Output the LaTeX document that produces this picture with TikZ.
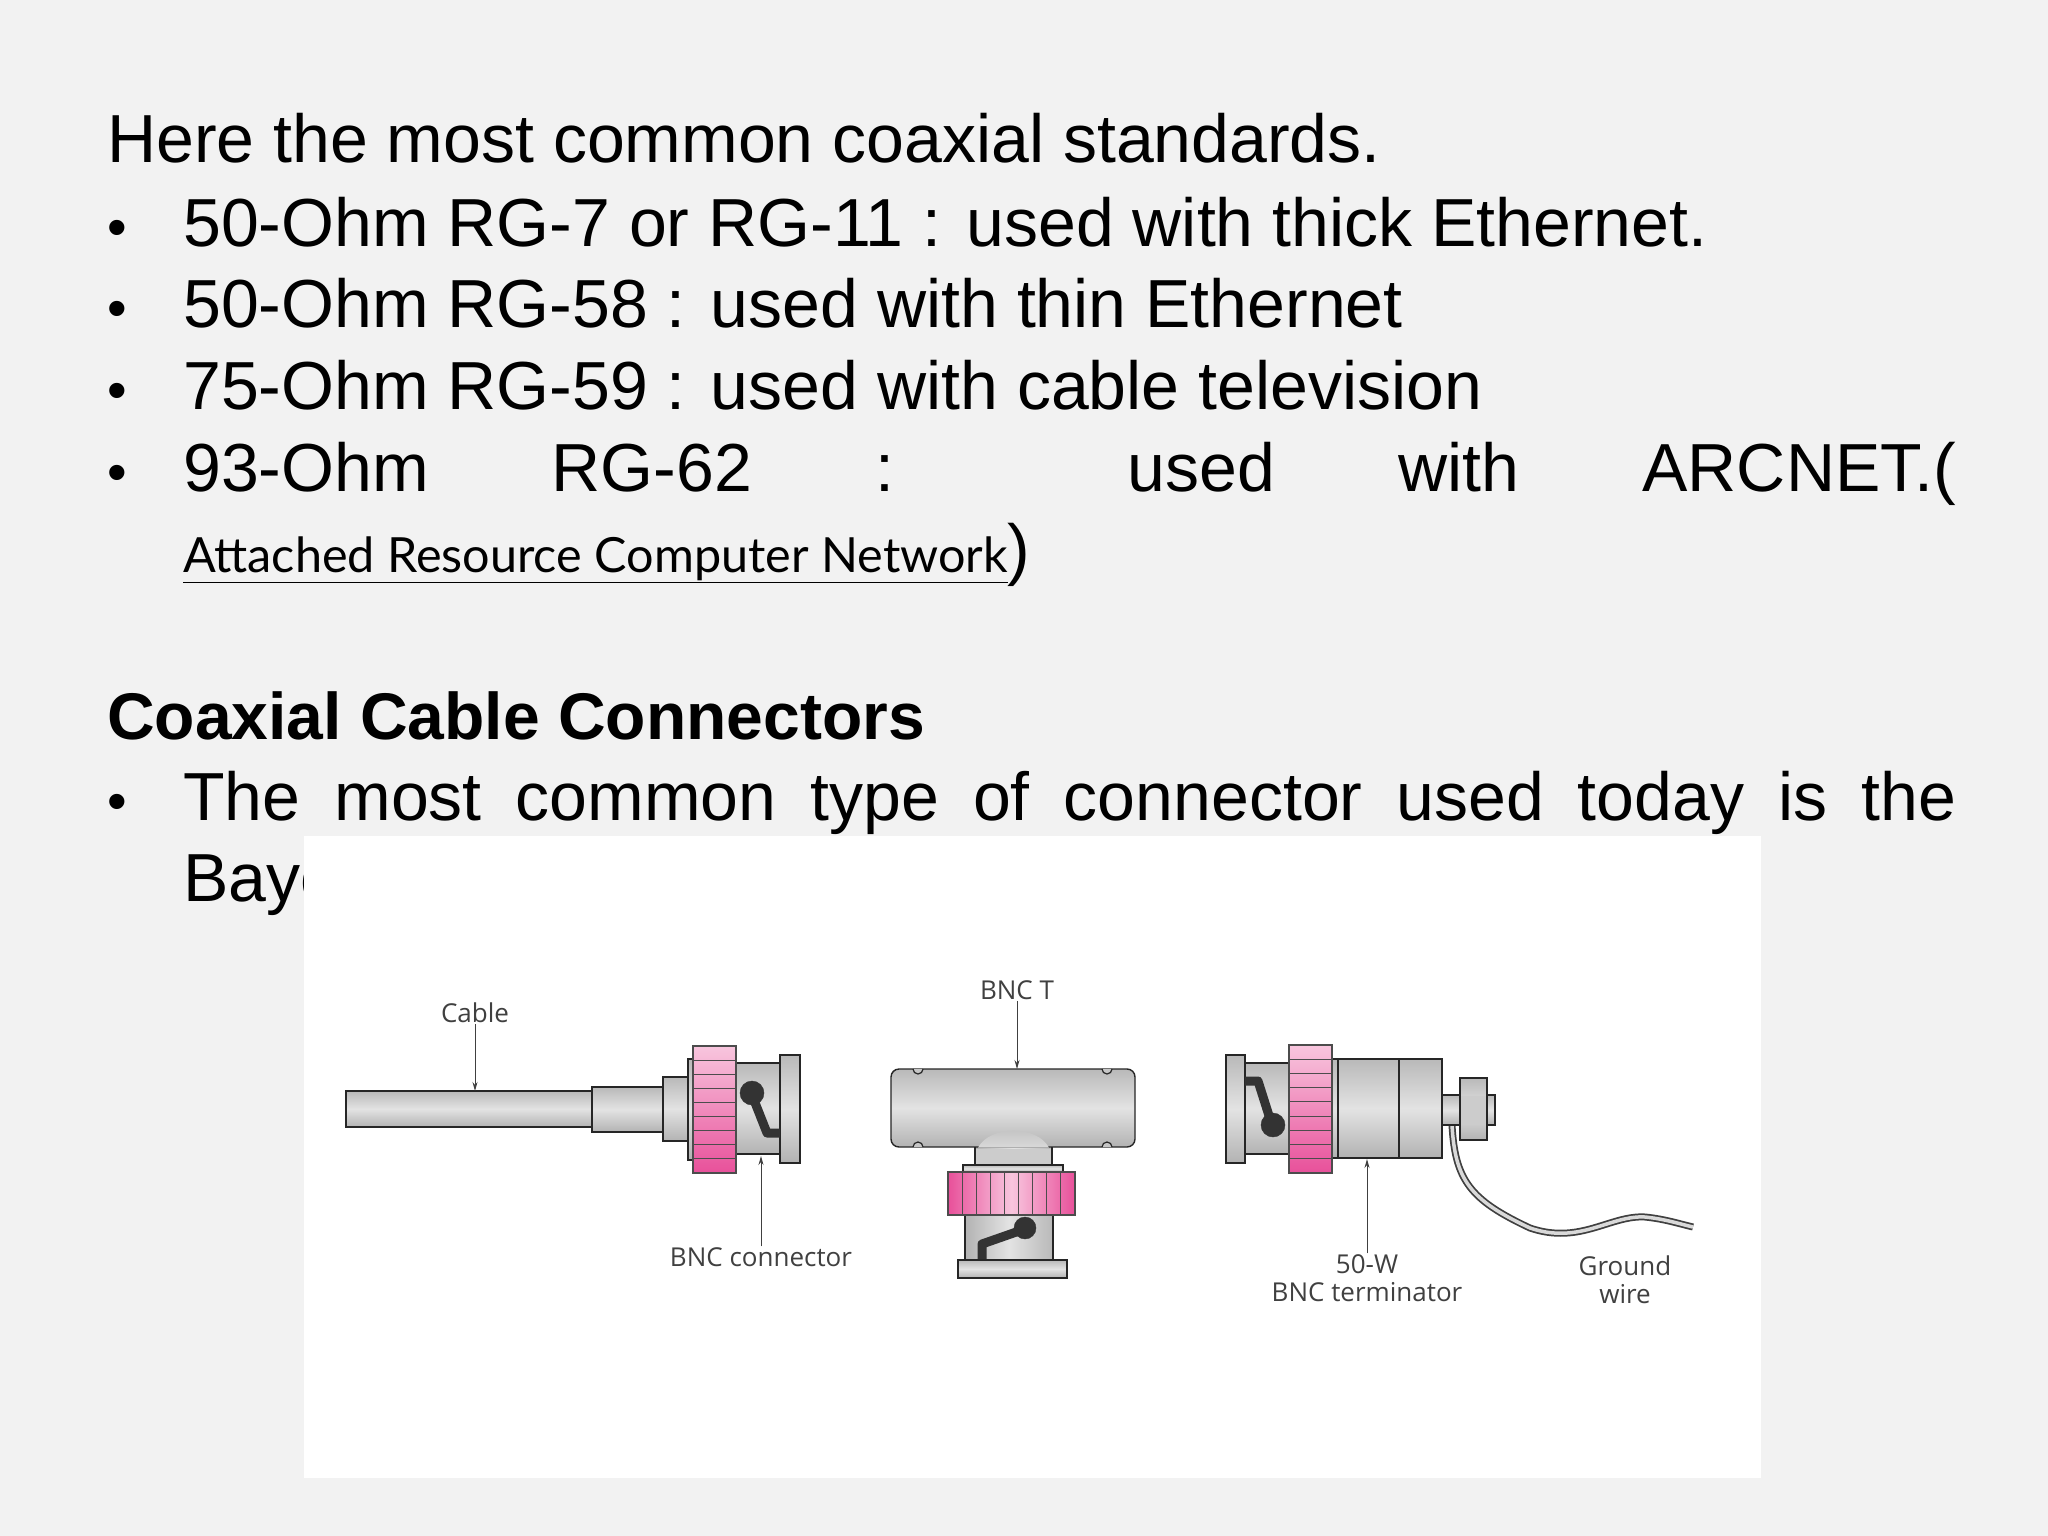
\documentclass[tikz,border=0pt]{standalone}
\usepackage{fontspec}
\usetikzlibrary{arrows.meta}
\setmainfont{Liberation Sans}
\newfontfamily\lblfont{Open Sans}
\newfontfamily\gillfont{Lato}
\definecolor{pklight}{HTML}{F8C6DE}
\definecolor{pkdark}{HTML}{E8509A}
\begin{document}
\begin{tikzpicture}[x=1pt,y=-1pt,
  txt/.style={anchor=base west,inner sep=0pt,font=\fontsize{68}{68}\selectfont},
  bul/.style={anchor=base west,inner sep=0pt,font=\fontsize{56}{56}\selectfont},
  lbl/.style={inner sep=1pt,font=\lblfont\fontsize{26}{28}\selectfont,text=black!75},
  arr/.style={-{Stealth[length=9pt,width=5pt]},black!75,line width=1pt},
  metal/.style={draw=black!85,line width=1.4pt,top color=gray!55,bottom color=gray!60,middle color=gray!22},
  metalv/.style={draw=black!85,line width=1.4pt,left color=gray!60,right color=gray!55,middle color=gray!22},
  pinkh/.style={draw=black!70,line width=1.2pt,top color=pklight,bottom color=pkdark},
  pinkv/.style={draw=black!70,line width=1.2pt,left color=pkdark,right color=pkdark,middle color=pklight},
  slot/.style={fill=black!80,draw=black!80}]
\useasboundingbox (0,0) rectangle (2048,1536);
\fill[black!5] (0,0) rectangle (2048,1536);
% text
\node[txt] (l0) at (107,163) {Here the most common coaxial standards.};
\foreach \yy/\t [count=\k] in {246/{50-Ohm RG-7 or RG-11 : used with thick Ethernet.},327/{50-Ohm RG-58 : used with thin Ethernet},409/{75-Ohm RG-59 : used with cable television}}{
  \node[bul] (b\k) at (107,\yy) {•};
  \node[txt] (t\k) at (183,\yy) {\t};
}
\node[bul] (b4) at (107,491) {•};
\node[txt] (t4) at (183,491) {\makebox[1773pt][s]{93-Ohm RG-62 : used with ARCNET.(}};
\node[txt] (t5) at (183,572) {\gillfont\fontsize{48.5}{48}\selectfont\underline{Attached Resource Computer Network}\fontsize{68}{68}\selectfont\rmfamily)};
\node[txt,font=\bfseries\fontsize{66}{66}\selectfont] (h2) at (107,739) {Coaxial Cable Connectors};
\node[bul] (b6) at (107,820) {•};
\node[txt] (t6) at (183,820) {\makebox[1773pt][s]{The most common type of connector used today is the}};
\node[txt] (t7) at (183,901) {Bayonet Neill-Concelman};
% white image box
\fill[white] (304,836) rectangle (1761,1478);
% ---- cable + BNC connector
\draw[metal] (346,1091) rectangle (592,1127);
\draw[metal] (592,1087) rectangle (663,1132);
\draw[metal] (663,1077) rectangle (688,1141);
\draw[metal] (688,1059) rectangle (694,1160);
\draw[metal] (736,1063) rectangle (780,1154);
\draw[metal] (780,1055) rectangle (800,1163);
\draw[pinkh] (693,1046) rectangle (736,1173);
\foreach \i in {1,...,8} \draw[black!70,line width=1.1pt] (693,{1046+\i*127/9}) -- (736,{1046+\i*127/9});
\fill[slot] (752,1093) circle (12);
\draw[black!80,line width=9pt,line join=round] (752,1095) -- (767,1133) -- (780,1133);
% cable labels
\node[lbl] (lcable) at (475,1013) {Cable};
\coordinate (pcable) at (475,1091);
\draw[arr] (lcable) -- (pcable);
\node[lbl] (lbnc) at (761,1257) {BNC connector};
\coordinate (pbnc) at (761,1156);
\draw[arr] (lbnc) -- (pbnc);
% ---- BNC T
\draw[metalv] (975,1125) -- (975,1170) -- (1052,1170) -- (1052,1125) .. controls (1040,1118) and (987,1118) .. (975,1125) -- cycle;
\draw[metal,rounded corners=8pt] (891,1069) rectangle (1135,1147);
\fill[gray!40] (976,1148.5) rectangle (1051,1165);
\draw[black!85,line width=1.4pt] (975,1147) -- (975,1166) (1052,1147) -- (1052,1166);
\shade[top color=gray!50,bottom color=gray!30] (978,1147.7) .. controls (990,1125) and (1037,1125) .. (1049,1147.7) -- cycle;
\foreach \bx in {918,1107}{
  \draw[black!85,line width=1.2pt,fill=gray!45] (\bx-5,1069) arc (180:0:5);
  \draw[black!85,line width=1.2pt,fill=gray!45] (\bx-5,1147) arc (180:360:5);
}
\draw[metal] (963,1165) rectangle (1063,1172);
\draw[metalv] (965,1215) rectangle (1053,1260);
\draw[metal] (958,1260) rectangle (1067,1278);
\draw[pinkv] (948,1172) rectangle (1075,1215);
\foreach \i in {1,...,8} \draw[black!70,line width=1.1pt] ({948+\i*127/9},1172) -- ({948+\i*127/9},1215);
\fill[slot] (1025,1228) circle (11);
\draw[black!80,line width=9pt,line join=round] (1022,1230) -- (982,1244) -- (982,1259);
\node[lbl] (lt) at (1017,990) {BNC T};
\coordinate (pt) at (1017,1069);
\draw[arr] (lt) -- (pt);
% ---- terminator
\draw[black!75,line width=7pt] (1452,1125) .. controls (1455,1180) and (1470,1200) .. (1530,1228) .. controls (1580,1245) and (1610,1215) .. (1645,1217) .. controls (1665,1219) and (1680,1224) .. (1693,1227);
\draw[gray!30,line width=3.5pt] (1452,1125) .. controls (1455,1180) and (1470,1200) .. (1530,1228) .. controls (1580,1245) and (1610,1215) .. (1645,1217) .. controls (1665,1219) and (1680,1224) .. (1693,1227);
\draw[metal] (1442,1095) rectangle (1495,1125);
\draw[metal] (1460,1078) rectangle (1487,1140);
\fill[gray!40] (1461,1096) rectangle (1486,1124);
\draw[metal] (1226,1055) rectangle (1245,1163);
\draw[metal] (1245,1063) rectangle (1289,1154);
\draw[metal] (1332,1059) rectangle (1442,1158);
\draw[black!85,line width=1.4pt] (1338,1059) -- (1338,1158) (1399,1059) -- (1399,1158);
\draw[pinkh] (1289,1045) rectangle (1332,1173);
\foreach \i in {1,...,8} \draw[black!70,line width=1.1pt] (1289,{1045+\i*128/9}) -- (1332,{1045+\i*128/9});
\fill[slot] (1273,1125) circle (12);
\draw[black!80,line width=9pt,line join=round] (1271,1122) -- (1258,1081) -- (1245,1081);
\node[lbl,align=center] (lterm) at (1367,1278) {50-W\\BNC terminator};
\coordinate (pterm) at (1367,1159);
\draw[arr] (lterm.north) -- (pterm);
\node[lbl,align=center] (lgw) at (1625,1280) {Ground\\wire};
\end{tikzpicture}
\end{document}
